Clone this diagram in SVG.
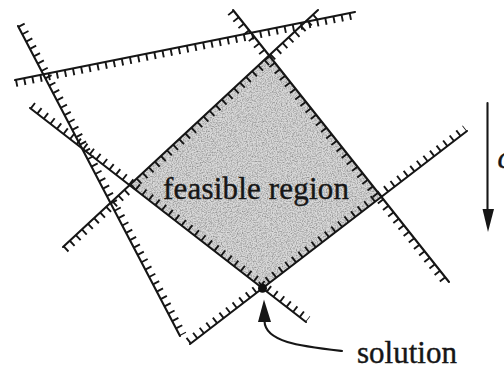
<svg xmlns="http://www.w3.org/2000/svg" width="504" height="367" viewBox="0 0 504 367">
<style>
.ln{stroke:#161616;stroke-width:2.1;fill:none;stroke-linecap:round}
.tk{stroke:#161616;stroke-width:7;fill:none;stroke-dasharray:1.9 6.4}
.lbl{font-family:"Liberation Serif","Times New Roman",serif;font-size:31px;fill:#161616;stroke:#161616;stroke-width:0.4}
</style>
<defs>
<filter id="grain" x="0" y="0" width="100%" height="100%">
<feTurbulence type="fractalNoise" baseFrequency="0.8" numOctaves="2" seed="7" result="t"/>
<feColorMatrix in="t" type="matrix" values="0 0 0 0 0  0 0 0 0 0  0 0 0 0 0  0 0 0 0.7 -0.27" result="spots"/>
<feComposite in="spots" in2="SourceGraphic" operator="in"/>
</filter>
</defs>
<rect width="504" height="367" fill="#ffffff"/>
<g id="feasible-region">
<polygon points="269.1,55.3 381.3,196.8 262.5,288.3 129.5,185.1" fill="#d8d8d8"/>
<polygon points="269.1,55.3 381.3,196.8 262.5,288.3 129.5,185.1" fill="#000" filter="url(#grain)"/>
<text class="lbl" x="163" y="198.5" textLength="186">feasible region</text>
</g>
<g id="constraints">
<g id="c-top"><line class="ln" x1="15" y1="80" x2="355" y2="12"/><line class="tk" x1="15.7" y1="83.4" x2="355.7" y2="15.4"/></g>
<g id="c-steep"><line class="ln" x1="18" y1="26" x2="180" y2="336"/><line class="tk" x1="21.1" y1="24.4" x2="183.1" y2="334.4"/></g>
<g id="c-bottom-left"><line class="ln" x1="30" y1="108" x2="306" y2="322"/><line class="tk" x1="32.1" y1="105.2" x2="308.1" y2="319.2"/></g>
<g id="c-top-left"><line class="ln" x1="63" y1="247" x2="318" y2="10"/><line class="tk" x1="65.4" y1="249.6" x2="320.4" y2="12.6"/></g>
<g id="c-top-right"><line class="ln" x1="233" y1="10" x2="449" y2="282"/><line class="tk" x1="230.3" y1="12.2" x2="446.3" y2="284.2"/></g>
<g id="c-bottom-right"><line class="ln" x1="190" y1="344" x2="467" y2="131"/><line class="tk" x1="187.9" y1="341.2" x2="464.9" y2="128.2"/></g>
</g>
<g id="objective">
<line class="ln" x1="487.5" y1="103" x2="487.5" y2="214" stroke-width="1.6"/>
<polygon points="488,232 482.5,209 494,209" fill="#161616"/>
<text class="lbl" x="497.5" y="168" font-style="italic">c</text>
</g>
<g id="solution">
<circle cx="262.5" cy="288.3" r="4.5" fill="#111"/>
<polygon points="264,299.5 258,322 271,322" fill="#161616"/>
<path class="ln" d="M264.5,321 C265,342 300,346 342,351" stroke-width="1.6"/>
<text class="lbl" x="357" y="363">solution</text>
</g>
</svg>
